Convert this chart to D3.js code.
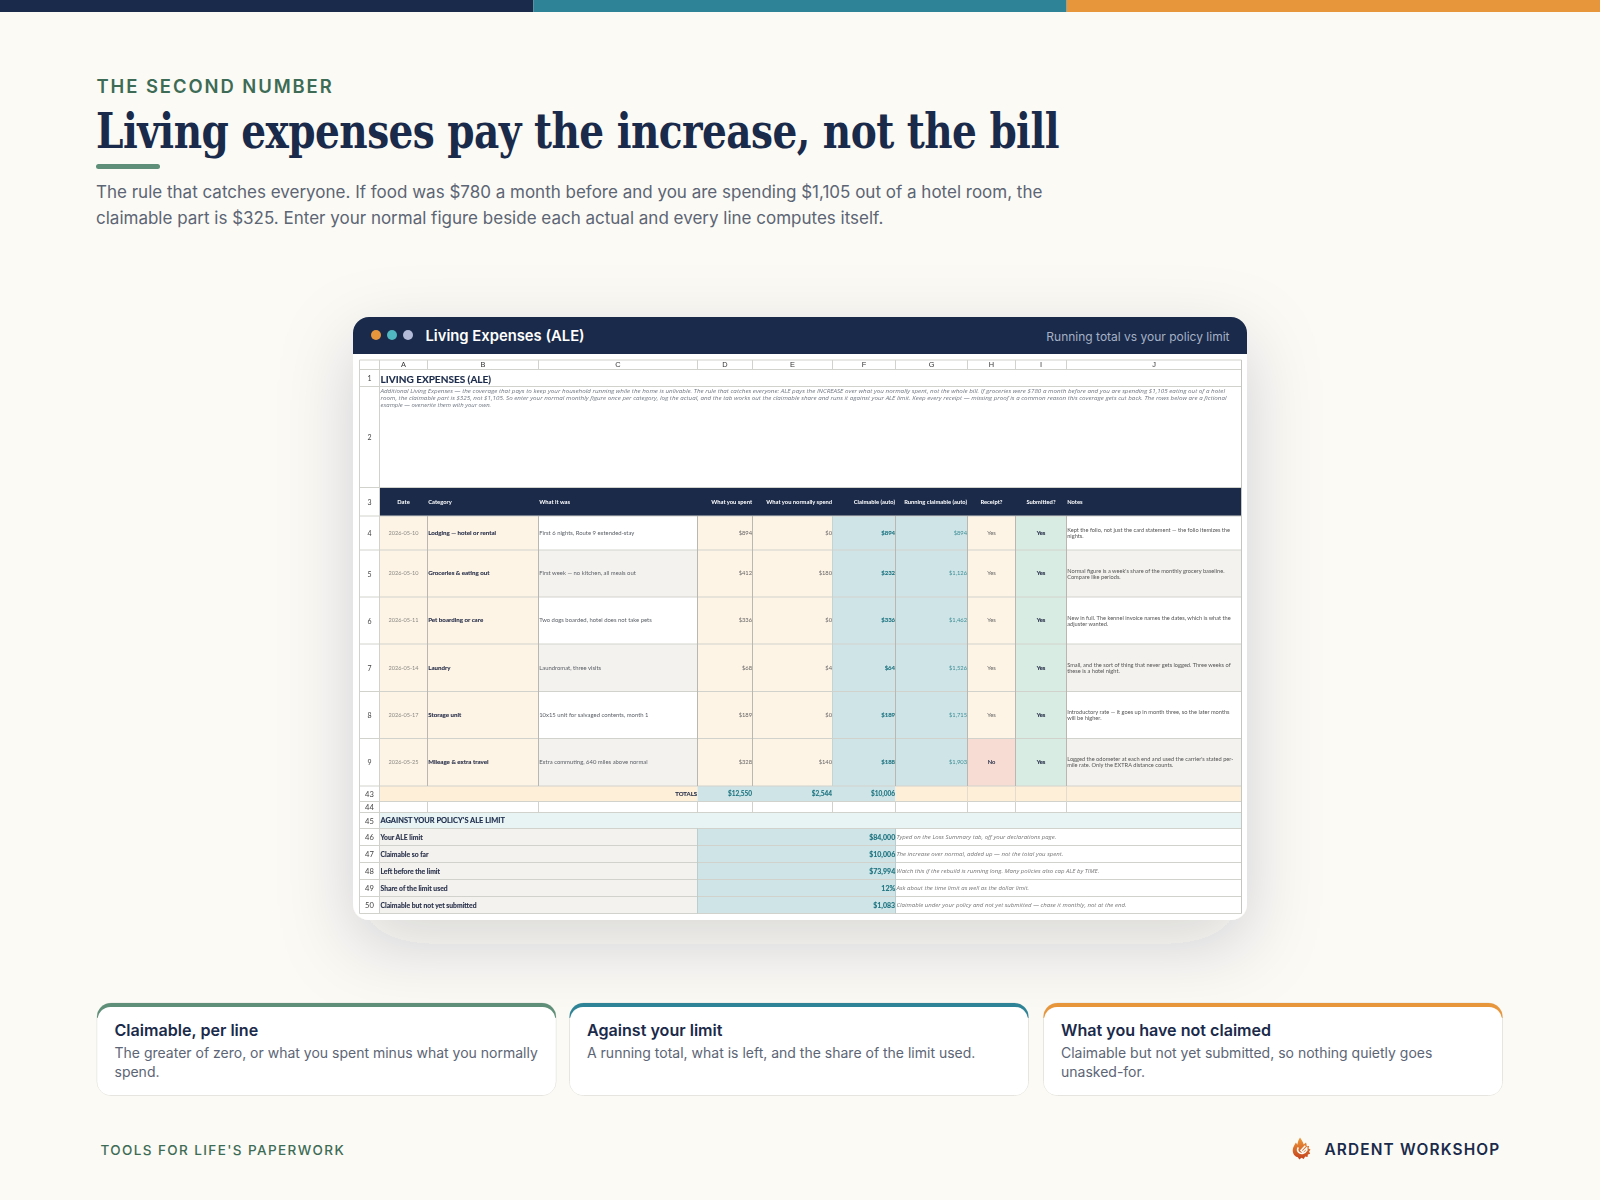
<!DOCTYPE html>
<html><head><meta charset="utf-8">
<script src="https://cdn.jsdelivr.net/npm/d3@7"></script>
<style>html,body{margin:0;padding:0;background:#fbfaf4}svg{display:block}</style>
</head><body><div id="chart"></div>
<script>
// ---------- data ----------
const columnLetters = ["A","B","C","D","E","F","G","H","I","J"];
const headerLabels = ["Date","Category","What it was","What you spent","What you normally spend","Claimable (auto)","Running claimable (auto)","Receipt?","Submitted?","Notes"];
const dates = ["2026-05-10","2026-05-10","2026-05-11","2026-05-14","2026-05-17","2026-05-25"];
const categories = ["Lodging — hotel or rental","Groceries & eating out","Pet boarding or care","Laundry","Storage unit","Mileage & extra travel"];
const whatItWas = ["First 6 nights, Route 9 extended-stay","First week — no kitchen, all meals out","Two dogs boarded, hotel does not take pets","Laundromat, three visits","10x15 unit for salvaged contents, month 1","Extra commuting, 640 miles above normal"];
const spent = [894,412,336,68,189,328];
const normal = [0,180,0,4,0,140];
const claimable = [894,232,336,64,189,188];
const running = [894,1126,1462,1526,1715,1903];
const receipt = ["Yes","Yes","Yes","Yes","Yes","No"];
const submitted = ["Yes","Yes","Yes","Yes","Yes","Yes"];
const notes = [
 ["Kept the folio, not just the card statement — the folio itemizes the","nights."],
 ["Normal figure is a week's share of the monthly grocery baseline.","Compare like periods."],
 ["New in full. The kennel invoice names the dates, which is what the","adjuster wanted."],
 ["Small, and the sort of thing that never gets logged. Three weeks of","these is a hotel night."],
 ["Introductory rate — it goes up in month three, so the later months","will be higher."],
 ["Logged the odometer at each end and used the carrier's stated per-","mile rate. Only the EXTRA distance counts."]];
const rowNumbers = ["1","2","3","4","5","6","7","8","9","43","44","45","46","47","48","49","50"];
const totals = [12550,2544,10006];
const limitLabels = ["Your ALE limit","Claimable so far","Left before the limit","Share of the limit used","Claimable but not yet submitted"];
const limitValues = ["$84,000","$10,006","$73,994","12%","$1,083"];
const limitNotes = ["Typed on the Loss Summary tab, off your declarations page.","The increase over normal, added up — not the total you spent.","Watch this if the rebuild is running long. Many policies also cap ALE by TIME.","Ask about the time limit as well as the dollar limit.","Claimable under your policy and not yet submitted — chase it monthly, not at the end."];
const introLines = ["Additional Living Expenses — the coverage that pays to keep your household running while the home is unlivable. The rule that catches everyone: ALE pays the INCREASE over what you normally spent, not the whole bill. If groceries were $780 a month before and you are spending $1,105 eating out of a hotel",
"room, the claimable part is $325, not $1,105. So enter your normal monthly figure once per category, log the actual, and the tab works out the claimable share and runs it against your ALE limit. Keep every receipt — missing proof is a common reason this coverage gets cut back. The rows below are a fictional",
"example — overwrite them with your own."];
const cardTitles = ["Claimable, per line","Against your limit","What you have not claimed"];
const cardLines = [["The greater of zero, or what you spent minus what you normally","spend."],["A running total, what is left, and the share of the limit used."],["Claimable but not yet submitted, so nothing quietly goes","unasked-for."]];
const subtitleLines = ["The rule that catches everyone. If food was $780 a month before and you are spending $1,105 out of a hotel room, the","claimable part is $325. Enter your normal figure beside each actual and every line computes itself."];

// ---------- layout ----------
const colEdges = [379.5,427.5,538.5,697.5,752.5,832.5,895.5,967.5,1015.5,1066.5,1241.5];
const rowEdges = [369.5,386.5,487.5,516,550,597,644,691.5,738.5,786,801.5,812.5,828.5,845.5,862.5,879.5,896.5,913.5];
const gridLeft = 359.5, gridTop = 360;
const x = d3.scaleLinear().domain(d3.range(colEdges.length)).range(colEdges);
const y = d3.scaleLinear().domain(d3.range(rowEdges.length)).range(rowEdges);
const money = d3.format("$,");
const C = {bg:"#fbfaf4",navy:"#1a2a4a",teal:"#2e8496",orange:"#e8963c",sage:"#5f8f78",green:"#3d6b55",body:"#5c6575",
  cream:"#fef4e6",creamDeep:"#feefd9",calc:"#cfe4e7",sub:"#d9ece3",no:"#f6dcd3",zebra:"#f3f2ee",band:"#e8f3f4",line:"#d2d2cd",vline:"#b9b8b0",tealText:"#1d7480",muted:"#7a7f88"};
const SANS="Inter, 'Noto Sans', sans-serif", SHEET="Lato, 'Open Sans', sans-serif", ITAL="'Open Sans', Lato, sans-serif", SERIF="'DejaVu Serif Condensed','DejaVu Serif', serif", HEAD="'Liberation Sans', sans-serif";

const svg = d3.select("#chart").append("svg").attr("width",1600).attr("height",1200).attr("viewBox","0 0 1600 1200");
const defs = svg.append("defs");
const shadow = defs.append("filter").attr("id","shadow").attr("x","-20%").attr("y","-20%").attr("width","140%").attr("height","150%");
shadow.append("feDropShadow").attr("dx",0).attr("dy",24).attr("stdDeviation",36).attr("flood-color","#1a2a4a").attr("flood-opacity",0.17);
defs.append("filter").attr("id","soft").attr("x","0").attr("y","0").attr("width","100%").attr("height","100%")
  .attr("filterUnits","objectBoundingBox").append("feGaussianBlur").attr("stdDeviation",0.33);
const flameGrad = defs.append("linearGradient").attr("id","flame").attr("x1",0).attr("y1",0).attr("x2",0).attr("y2",1);
flameGrad.append("stop").attr("offset",0).attr("stop-color","#ee9a3a");
flameGrad.append("stop").attr("offset",1).attr("stop-color","#c4401c");

function t(g,px,py,s,o={}){
  return g.append("text").attr("x",px).attr("y",py).text(s)
    .attr("font-family",o.f||SANS).attr("font-size",o.s||12).attr("font-weight",o.w||400)
    .attr("font-style",o.i?"italic":null).attr("fill",o.c||C.navy)
    .attr("stroke",o.sw?(o.c||C.navy):null).attr("stroke-width",o.sw||null)
    .attr("text-anchor",o.a||"start").attr("letter-spacing",o.ls||null)
    .attr("textLength",o.len||null).attr("lengthAdjust",o.len?"spacingAndGlyphs":null)
    .attr("dominant-baseline",o.mid?"central":null);
}

// background + top bar
svg.append("rect").attr("width",1600).attr("height",1200).attr("fill",C.bg);
const barX = d3.scaleBand().domain([0,1,2]).range([0,1600]);
svg.selectAll("rect.bar").data([C.navy,C.teal,C.orange]).join("rect").attr("class","bar")
  .attr("x",(d,i)=>barX(i)).attr("y",0).attr("width",barX.bandwidth()).attr("height",12).attr("fill",d=>d);

// heading
t(svg,96.5,93,"THE SECOND NUMBER",{s:18.4,w:600,c:C.green,ls:"1.95px"});
t(svg,96,148,"Living expenses pay the increase, not the bill",{f:SERIF,s:48.5,w:700,ls:"-0.6px",len:963});
svg.append("rect").attr("x",96).attr("y",164).attr("width",64).attr("height",5).attr("rx",2.5).attr("fill",C.sage);
subtitleLines.forEach((l,i)=>t(svg,96,198+i*26,l,{s:17,c:C.body}));

// window card
svg.append("rect").attr("x",353).attr("y",317).attr("width",894).attr("height",603).attr("rx",16).attr("fill","#fff").attr("filter","url(#shadow)");
svg.append("path").attr("d","M353,354V333a16,16 0 0 1 16,-16H1231a16,16 0 0 1 16,16V354Z").attr("fill",C.navy);
svg.selectAll("circle.dot").data([C.orange,"#4fb8c0","#b3bbd9"]).join("circle").attr("class","dot")
  .attr("cx",(d,i)=>376+i*16).attr("cy",335).attr("r",5).attr("fill",d=>d);
t(svg,425.5,341,"Living Expenses (ALE)",{s:14.8,w:600,c:"#fff"});
t(svg,1229.5,341,"Running total vs your policy limit",{s:12,c:"#a5b1c6",a:"end"});

// ---------- spreadsheet ----------
const sheet = svg.append("g").attr("filter","url(#soft)");
const cell=(c0,c1,r0,r1,fill)=>sheet.append("rect").attr("x",x(c0)).attr("y",y(r0)).attr("width",x(c1)-x(c0)).attr("height",y(r1)-y(r0)).attr("fill",fill);
const dataTop = 3; // rowEdges index where data rows start
sheet.append("rect").attr("x",gridLeft).attr("y",gridTop).attr("width",x(10)-gridLeft).attr("height",y(17)-gridTop).attr("fill","#fff");

// header row band
cell(0,10,2,3,C.navy);
// data fills
dates.forEach((_,i)=>{
  const r=dataTop+i;
  cell(0,2,r,r+1,C.cream);
  cell(2,3,r,r+1,i%2?C.zebra:"#fff");
  cell(3,5,r,r+1,C.cream);
  cell(5,7,r,r+1,C.calc);
  cell(7,8,r,r+1,receipt[i]==="No"?C.no:C.cream);
  cell(8,9,r,r+1,C.sub);
  cell(9,10,r,r+1,i%2?C.zebra:"#fff");
});
// totals
cell(0,3,9,10,C.creamDeep); cell(3,6,9,10,C.calc); cell(6,10,9,10,C.creamDeep);
// band
cell(0,10,11,12,C.band);
limitLabels.forEach((_,i)=>{cell(0,3,12+i,13+i,C.zebra);cell(3,6,12+i,13+i,C.calc);});

// grid lines
const hl=(py,c)=>sheet.append("line").attr("x1",gridLeft).attr("x2",x(10)).attr("y1",py).attr("y2",py).attr("stroke",c||C.line).attr("stroke-width",1);
const vl=(px,a,b,c)=>sheet.append("line").attr("x1",px).attr("x2",px).attr("y1",a).attr("y2",b).attr("stroke",c||C.line).attr("stroke-width",1);
hl(gridTop); rowEdges.forEach(e=>hl(e));
vl(gridLeft,gridTop,y(17)); vl(x(0),gridTop,y(17)); vl(x(10),gridTop,y(17),"#c4c4c0");
[1,2,3,4,5,6,7,8,9].forEach(c=>{ vl(x(c),gridTop,rowEdges[0]); });
[1,2,3,4,6,7,8,9].forEach(c=>vl(x(c),y(3),y(9),C.vline));
vl(x(5),y(3),y(9),"#c6d3d2");
[1,2,3,4,5,6,7,8,9].forEach(c=>vl(x(c),y(10),y(11)));
[7,8,9].forEach(c=>vl(x(c),y(9),y(10),"#e7dcc9"));
vl(x(3),y(12),y(17),"#b9cfcf"); vl(x(6),y(12),y(17),"#b9cfcf");

// column letters
columnLetters.forEach((l,i)=>t(sheet,(x(i)+x(i+1))/2,366.8,l,{f:HEAD,s:7.4,c:"#333",a:"middle"}));
// row numbers
rowNumbers.forEach((n,i)=>t(sheet,369.5,(y(i)+y(i+1))/2+0.2,n,{f:SHEET,s:i>8?7.6:7,c:"#444",a:"middle",mid:1}));

// title + intro
t(sheet,380.5,383,"LIVING EXPENSES (ALE)",{f:SHEET,s:10.05,w:700,sw:0.15});
introLines.forEach((l,i)=>t(sheet,380.5,392.8+i*7,l,{f:ITAL,s:5.95,i:1,c:"#6f7680",len:[844.5,846,null][i]}));

// table header
const hdrAlign=["middle","start","start","end","end","end","end","middle","middle","start"];
const cellX=(c,a)=>a==="middle"?(x(c)+x(c+1))/2:a==="end"?x(c+1)-0.4:x(c)+0.7;
headerLabels.forEach((l,c)=>t(sheet,cellX(c,hdrAlign[c]),(y(2)+y(3))/2-0.5,l,{f:SHEET,s:5.8,w:700,c:"#fff",a:hdrAlign[c],mid:1}));

// data text
dates.forEach((d,i)=>{
  const cy=(y(dataTop+i)+y(dataTop+i+1))/2-0.7;
  t(sheet,cellX(0,"middle"),cy,d,{f:SHEET,s:5.6,c:"#8a8a85",a:"middle",mid:1});
  t(sheet,cellX(1,"start"),cy,categories[i],{f:SHEET,s:6.15,w:700,mid:1,c:"#28304a",sw:0.1});
  t(sheet,cellX(2,"start"),cy,whatItWas[i],{f:SHEET,s:5.9,c:"#5a5f66",mid:1});
  t(sheet,cellX(3,"end"),cy,money(spent[i]),{f:SHEET,s:5.8,c:"#666",a:"end",mid:1});
  t(sheet,cellX(4,"end"),cy,money(normal[i]),{f:SHEET,s:5.8,c:"#666",a:"end",mid:1});
  t(sheet,cellX(5,"end"),cy,money(claimable[i]),{f:SHEET,s:6,w:700,c:C.tealText,a:"end",mid:1,sw:0.1});
  t(sheet,cellX(6,"end"),cy,money(running[i]),{f:SHEET,s:5.8,c:"#3f9097",a:"end",mid:1});
  t(sheet,cellX(7,"middle"),cy,receipt[i],{f:SHEET,s:5.8,w:receipt[i]==="No"?700:400,c:receipt[i]==="No"?"#28304a":"#666",a:"middle",mid:1});
  t(sheet,cellX(8,"middle"),cy,submitted[i],{f:SHEET,s:5.8,w:700,c:"#28304a",a:"middle",mid:1,sw:0.1});
  notes[i].forEach((l,k)=>t(sheet,cellX(9,"start"),cy-2.7+k*6.1,l,{f:SHEET,s:5.67,c:"#555",mid:1}));
});

// totals text
const ty=(y(9)+y(10))/2-0.5;
t(sheet,x(3)-0.4,ty,"TOTALS",{f:SHEET,s:6,w:700,c:"#28304a",a:"end",mid:1,sw:0.1});
totals.forEach((v,i)=>t(sheet,x(4+i)-0.4,ty,money(v),{f:SHEET,s:6.5,w:700,c:C.tealText,a:"end",mid:1,sw:0.1}));

// limit section
t(sheet,380.5,(y(11)+y(12))/2,"AGAINST YOUR POLICY'S ALE LIMIT",{f:SHEET,s:7.45,w:700,mid:1,sw:0.12});
limitLabels.forEach((l,i)=>{
  const cy=(y(12+i)+y(13+i))/2-0.4;
  t(sheet,380.5,cy,l,{f:SHEET,s:6.78,w:700,c:"#28304a",mid:1,sw:0.12});
  t(sheet,x(6)-0.3,cy,limitValues[i],{f:SHEET,s:7,w:700,c:C.tealText,a:"end",mid:1,sw:0.12});
  t(sheet,x(6)+1,cy,limitNotes[i],{f:ITAL,s:6.05,i:1,c:"#777",mid:1});
});

// ---------- bottom cards ----------
const cardX=[97,569.5,1043.5], cardW=459, cardY=1003, cardH=92.5;
[C.sage,C.teal,C.orange].forEach((col,i)=>{
  const g=svg.append("g");
  const clip=defs.append("clipPath").attr("id","cc"+i);
  clip.append("rect").attr("x",cardX[i]-1).attr("y",cardY-1).attr("width",cardW+2).attr("height",16);
  g.append("rect").attr("x",cardX[i]).attr("y",cardY).attr("width",cardW).attr("height",cardH).attr("rx",14).attr("fill","#fff").attr("stroke","#e6e5df");
  g.append("rect").attr("x",cardX[i]).attr("y",cardY).attr("width",cardW).attr("height",cardH).attr("rx",14).attr("fill",col).attr("clip-path",`url(#cc${i})`);
  g.append("rect").attr("x",cardX[i]+0.5).attr("y",cardY+4).attr("width",cardW-1).attr("height",cardH-4.5).attr("rx",13).attr("fill","#fff");
  t(g,cardX[i]+17.5,1036,cardTitles[i],{s:16.1,w:600});
  cardLines[i].forEach((l,k)=>t(g,cardX[i]+17.5,1058+k*19,l,{s:14,c:C.body}));
});

// footer
t(svg,100.5,1155,"TOOLS FOR LIFE'S PAPERWORK",{s:13.5,w:500,c:C.green,ls:"1.4px"});
t(svg,1324.5,1155,"ARDENT WORKSHOP",{s:15.4,w:600,ls:"1.15px"});
const logo=svg.append("g").attr("transform","translate(1301.5,1149)");
logo.append("path").attr("d","M-1.5,-11.5C0.5,-8.5 1.5,-7 2.2,-4.5L4.5,-6.5C5,-5 5.2,-4 5.2,-3L7.6,-3L7,-0.6L9,0.6L7.6,2.6L8.6,4.8L6.4,5.4L6,8L3.6,7.6L2.2,10L0,8.8L-2.2,10.6L-3.6,8.2C-6.5,7.5 -8.8,5 -8.8,1.2C-8.8,-2 -6.5,-4.5 -5.6,-6.5C-5,-5.6 -4.6,-4.8 -4.2,-4.2C-3.8,-6.8 -3,-9.2 -1.5,-11.5Z").attr("fill","url(#flame)");
logo.append("path").attr("d","M3.8,-3.2L-0.6,1.4L1,3L5.2,-1.2L5.4,1.2C3.6,4.4 0,5.4 -2.6,3.4C-4.2,2 -4.2,0 -3.2,-1.6").attr("fill","none").attr("stroke","#fbfaf4").attr("stroke-width",1.5);
</script></body></html>
